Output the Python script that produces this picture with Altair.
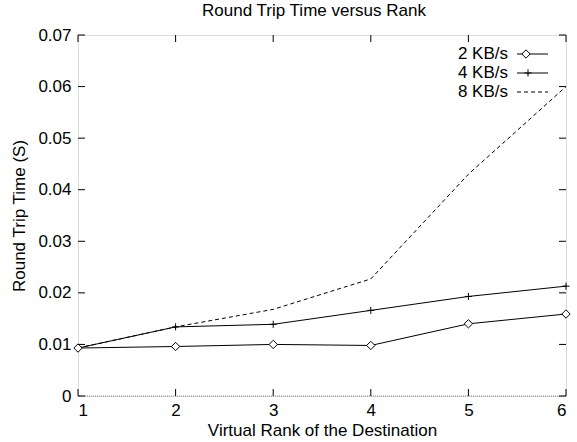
import altair as alt
import pandas as pd

ranks = [1, 2, 3, 4, 5, 6]
series_names = ["2 KB/s", "4 KB/s", "8 KB/s"]
rtt_2kb = [0.0093, 0.0096, 0.0100, 0.0098, 0.0140, 0.0159]
rtt_4kb = [0.0093, 0.0134, 0.0139, 0.0166, 0.0193, 0.0213]
rtt_8kb = [0.0093, 0.0134, 0.0168, 0.0227, 0.0430, 0.0600]
x_ticks = [1, 2, 3, 4, 5, 6]
y_ticks = [0, 0.01, 0.02, 0.03, 0.04, 0.05, 0.06, 0.07]

W, H = 488, 361
FONT = "Liberation Sans"
FS = 17

rows = []
for name, vals in zip(series_names, [rtt_2kb, rtt_4kb, rtt_8kb]):
    for r, v in zip(ranks, vals):
        rows.append({"rank": r, "rtt": v, "series": name})
df = pd.DataFrame(rows)

xs = alt.Scale(domain=[1, 6], nice=False, zero=False)
ys = alt.Scale(domain=[0, 0.07], nice=False)

base = alt.Chart(df)

axis_x = alt.Axis(values=x_ticks, format="d", tickSize=0, domain=False, grid=False,
                  labelFont=FONT, labelFontSize=FS, labelColor="black", labelPadding=6,
                  titleFont=FONT, titleFontSize=FS, titleFontWeight="normal", titleColor="black",
                  titlePadding=4)
axis_y = alt.Axis(values=y_ticks, tickSize=0, domain=False, grid=False,
                  labelExpr="datum.value == 0 ? '0' : format(datum.value, '.2f')",
                  labelFont=FONT, labelFontSize=FS, labelColor="black", labelPadding=7,
                  titleFont=FONT, titleFontSize=FS, titleFontWeight="normal", titleColor="black",
                  titlePadding=9)

zero_line = alt.Chart(pd.DataFrame({"y": [0]})).mark_rule(
    color="#888888", strokeDash=[1, 1], strokeWidth=1
).encode(y=alt.Y("y:Q", scale=ys))

line_2 = base.transform_filter(alt.datum.series == series_names[0]).mark_line(
    color="black", strokeWidth=1
).encode(
    x=alt.X("rank:Q", scale=xs, axis=axis_x, title="Virtual Rank of the Destination"),
    y=alt.Y("rtt:Q", scale=ys, axis=axis_y, title="Round Trip Time (S)"),
)
pts_2 = base.transform_filter(alt.datum.series == series_names[0]).mark_point(
    shape="diamond", filled=True, fill="white", stroke="black", strokeWidth=1, size=70, opacity=1
).encode(x=alt.X("rank:Q", scale=xs), y=alt.Y("rtt:Q", scale=ys))

line_4 = base.transform_filter(alt.datum.series == series_names[1]).mark_line(
    color="black", strokeWidth=1
).encode(x=alt.X("rank:Q", scale=xs), y=alt.Y("rtt:Q", scale=ys))
pts_4 = base.transform_filter(alt.datum.series == series_names[1]).mark_point(
    shape="M-1,0L1,0M0,-1L0,1", filled=False, stroke="black", strokeWidth=1, size=50, opacity=1
).encode(x=alt.X("rank:Q", scale=xs), y=alt.Y("rtt:Q", scale=ys))

line_8 = base.transform_filter(alt.datum.series == series_names[2]).mark_line(
    color="black", strokeWidth=1, strokeDash=[4, 3]
).encode(x=alt.X("rank:Q", scale=xs), y=alt.Y("rtt:Q", scale=ys))

# inward ticks on all four sides
xt = alt.Chart(pd.DataFrame({"x": x_ticks}))
yt = alt.Chart(pd.DataFrame({"y": y_ticks}))
tick_b = xt.mark_rule(color="black").encode(x=alt.X("x:Q", scale=xs), y=alt.value(H), y2=alt.value(H - 7))
tick_t = xt.mark_rule(color="black").encode(x=alt.X("x:Q", scale=xs), y=alt.value(0), y2=alt.value(7))
tick_l = yt.mark_rule(color="black").encode(y=alt.Y("y:Q", scale=ys), x=alt.value(0), x2=alt.value(7))
tick_r = yt.mark_rule(color="black").encode(y=alt.Y("y:Q", scale=ys), x=alt.value(W), x2=alt.value(W - 7))

# legend inside top-right
legend_layers = []
leg_y = [19, 38, 57]
one = pd.DataFrame({"a": [0]})
for i, name in enumerate(series_names):
    lc = alt.Chart(one)
    legend_layers.append(lc.mark_text(align="right", baseline="middle", font=FONT, fontSize=FS,
                                      color="black", text=name).encode(x=alt.value(430), y=alt.value(leg_y[i])))
    if i == 2:
        legend_layers.append(lc.mark_rule(color="black", strokeWidth=1, strokeDash=[4, 3]).encode(
            x=alt.value(439), x2=alt.value(470), y=alt.value(leg_y[i])))
    else:
        legend_layers.append(lc.mark_rule(color="black", strokeWidth=1).encode(
            x=alt.value(439), x2=alt.value(470), y=alt.value(leg_y[i])))
    if i == 0:
        legend_layers.append(lc.mark_point(shape="diamond", filled=True, fill="white", stroke="black",
                                           strokeWidth=1, size=70, opacity=1).encode(
            x=alt.value(448), y=alt.value(leg_y[i])))
    elif i == 1:
        legend_layers.append(lc.mark_point(shape="M-1,0L1,0M0,-1L0,1", filled=False, stroke="black",
                                           strokeWidth=1, size=50, opacity=1).encode(
            x=alt.value(450), y=alt.value(leg_y[i])))

chart = alt.layer(
    zero_line, line_8, line_4, line_2, pts_4, pts_2,
    tick_b, tick_t, tick_l, tick_r, *legend_layers
).properties(
    width=W, height=H,
    title=alt.Title("Round Trip Time versus Rank", font=FONT, fontSize=FS, fontWeight="normal",
                    color="black", offset=6, anchor="middle", dx=-8),
    autosize=alt.AutoSizeParams(type="none"),
    padding={"left": 78, "top": 35, "right": 11, "bottom": 46},
).configure_view(stroke="black", strokeWidth=1).configure(background="white")

chart.save("out.html", embed_options={"renderer": "svg", "actions": False})
